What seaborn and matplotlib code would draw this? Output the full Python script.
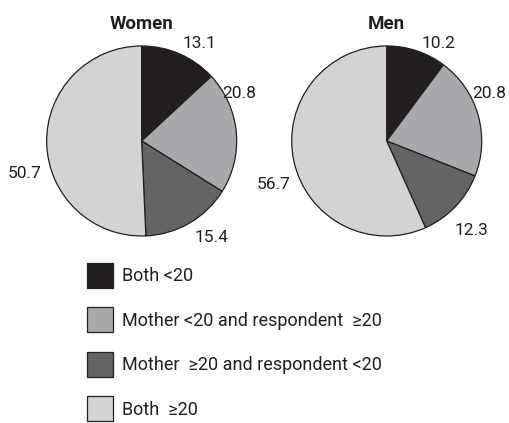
import matplotlib
matplotlib.use("Agg")
import matplotlib.pyplot as plt
import seaborn as sns

# data
groups = ["Women", "Men"]
categories = ["Both <20",
              "Mother <20 and respondent  \u226520",
              "Mother  \u226520 and respondent <20",
              "Both  \u226520"]
women_values = [13.1, 20.8, 15.4, 50.7]
men_values = [10.2, 20.8, 12.3, 56.7]
colors = ["#231f20", "#a7a9ac", "#636466", "#d1d3d4"]

sns.set_theme(style="white")
plt.rcParams["font.family"] = ["Roboto", "DejaVu Sans"]
plt.rcParams["text.color"] = "#231f20"

fig = plt.figure(figsize=(5.09, 4.23), dpi=100)

# axes boxes (fig fractions) so each pie has radius ~95px
ax_w = plt.axes([0.0917, 0.4421, 0.3733, 0.4492])
ax_m = plt.axes([0.5731, 0.4421, 0.3733, 0.4492])

# where the value labels sit, in pie-radius units
label_pos = {
    "Women": [(0.435, 1.03), (0.845, 0.505), (0.56, -1.02), (-1.05, -0.337)],
    "Men": [(0.372, 1.03), (0.898, 0.505), (0.719, -0.937), (-1.017, -0.463)],
}

for ax, name, vals in [(ax_w, "Women", women_values), (ax_m, "Men", men_values)]:
    wedges, texts = ax.pie(
        vals, labels=[f"{v:.1f}" for v in vals], colors=colors,
        startangle=90, counterclock=False, labeldistance=1.1,
        wedgeprops=dict(edgecolor="#231f20", linewidth=0.9),
        textprops=dict(fontsize=12.5),
    )
    for t, (x, y) in zip(texts, label_pos[name]):
        t.set_position((x, y))
        t.set_ha("left" if x > 0 else "right")
    ax.set_xlim(-1, 1)
    ax.set_ylim(-1, 1)
    ax.set_aspect("equal")
    ax.set_title(name, fontsize=13.5, fontweight="bold", pad=12)

fig.legend(
    wedges, categories, loc="upper left", bbox_to_anchor=(0.1709, 0.3783),
    frameon=False, fontsize=13, borderpad=0, borderaxespad=0,
    handlelength=1.44, handleheight=1.75, handletextpad=0.5, labelspacing=1.08,
)

plt.savefig("out.png", dpi=100)
